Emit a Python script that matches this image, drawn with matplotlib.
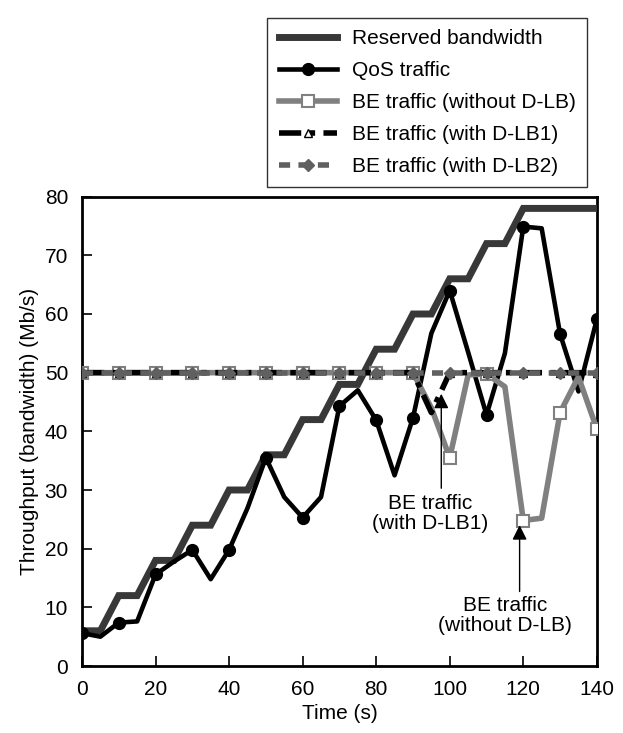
import matplotlib.pyplot as plt

plt.rcParams['font.family'] = ['Liberation Sans', 'DejaVu Sans']

time = [0, 5, 10, 15, 20, 25, 30, 35, 40, 45, 50, 55, 60, 65, 70,
        75, 80, 85, 90, 95, 100, 105, 110, 115, 120, 125, 130, 135, 140]
reserved = [6, 6, 12, 12, 18, 18, 24, 24, 30, 30, 36, 36, 42, 42, 48,
            48, 54, 54, 60, 60, 66, 66, 72, 72, 78, 78, 78, 78, 78]
qos = [5.6, 5.0, 7.4, 7.6, 15.6, 17.8, 19.8, 14.8, 19.8, 26.9, 35.5, 28.8, 25.3, 28.8, 44.3,
       47.0, 41.9, 32.5, 42.3, 56.7, 64.0, 53.5, 42.8, 53.3, 74.9, 74.6, 56.6, 46.8, 59.1]
be_no_lb = [50, 50, 50, 50, 50, 50, 50, 50, 50, 50, 50, 50, 50, 50, 50,
            50, 50, 50, 50, 44, 35.5, 49.6, 49.8, 47.6, 24.8, 25.2, 43.2, 49.3, 40.4]
be_lb1 = [50, 50, 50, 50, 50, 50, 50, 50, 50, 50, 50, 50, 50, 50, 50,
          50, 50, 50, 50, 43.2, 50, 50, 50, 50, 50, 50, 50, 50, 50]
be_lb2 = [50] * 29

fig = plt.figure(figsize=(6.23, 7.33), dpi=100)
ax = fig.add_axes([0.1316, 0.0914, 0.8264, 0.6403])

l1, = ax.plot(time, reserved, color='#383838', lw=5, solid_joinstyle='miter',
              label='Reserved bandwidth', zorder=3)
l2, = ax.plot(time, qos, color='black', lw=3.3, marker='o', markersize=8.5,
              markevery=2, label='QoS traffic', zorder=4)
l3, = ax.plot(time, be_no_lb, color='#808080', lw=4, marker='s', markersize=8,
              markerfacecolor='white', markeredgecolor='#808080', markeredgewidth=1.5,
              markevery=2, label='BE traffic (without D-LB)', zorder=5)
l4, = ax.plot(time, be_lb1, color='black', lw=4, linestyle=(0, (4, 1.5, 1, 1.5)),
              marker='^', markersize=6, markerfacecolor='white', markeredgecolor='black',
              markeredgewidth=1, markevery=2, label='BE traffic (with D-LB1)', zorder=6)
l5, = ax.plot(time, be_lb2, color='#606060', lw=4, linestyle=(0, (2, 1.5)),
              marker='D', markersize=6, markerfacecolor='#606060', markeredgecolor='#606060',
              markevery=2, label='BE traffic (with D-LB2)', zorder=7)

ax.set_xlim(0, 140)
ax.set_ylim(0, 80)
ax.set_xticks(range(0, 141, 20))
ax.set_yticks(range(0, 81, 10))
ax.tick_params(direction='in', length=7, width=1.2, labelsize=15, pad=10)
for s in ax.spines.values():
    s.set_linewidth(2)
ax.set_xlabel('Time (s)', fontsize=15, labelpad=4)
ax.set_ylabel('Throughput (bandwidth) (Mb/s)', fontsize=15, labelpad=4)

# annotations: text and vertical arrows
ax.text(94.8, 26.0, 'BE traffic\n(with D-LB1)', ha='center', va='center',
        fontsize=15, linespacing=1.05, zorder=8)
ax.annotate('', xy=(97.7, 46.4), xytext=(97.7, 30.3), zorder=8,
            arrowprops=dict(arrowstyle='-|>', color='black', lw=1, mutation_scale=22,
                            shrinkA=0, shrinkB=0))
ax.text(115, 8.6, 'BE traffic\n(without D-LB)', ha='center', va='center',
        fontsize=15, linespacing=1.05, zorder=8)
ax.annotate('', xy=(119, 24.0), xytext=(119, 12.7), zorder=8,
            arrowprops=dict(arrowstyle='-|>', color='black', lw=1, mutation_scale=22,
                            shrinkA=0, shrinkB=0))

leg = fig.legend(handles=[l1, l2, l3, l4, l5], loc='upper right',
                 bbox_to_anchor=(0.959, 0.99), fontsize=15, frameon=True,
                 fancybox=False, edgecolor='black', handlelength=2.8,
                 labelspacing=0.62, borderpad=0.55, handletextpad=0.7)
leg.get_frame().set_linewidth(1)

fig.savefig('out.png', dpi=100)
